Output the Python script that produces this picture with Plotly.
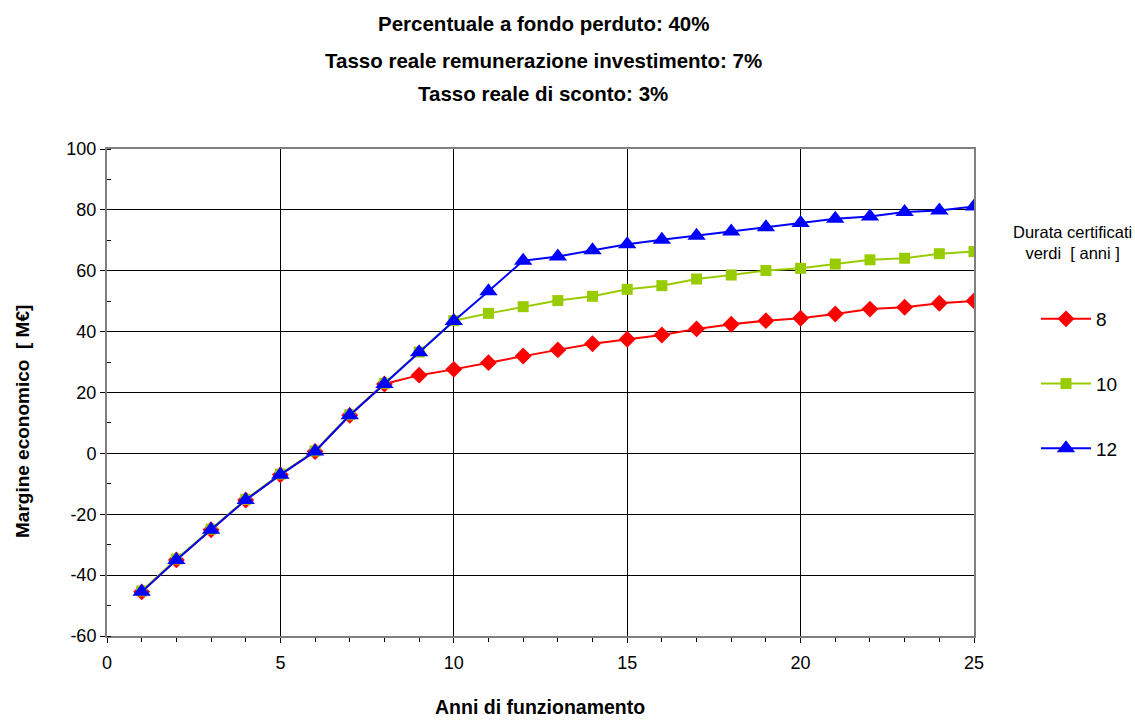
import plotly.graph_objects as go

# Anni di funzionamento
anni = list(range(1, 26))

# Margine economico [M€] per durata dei certificati verdi
margine_8 = [-45.5, -35.0, -25.1, -15.3, -7.0, 0.6, 12.5, 22.8, 25.7, 27.6,
             29.8, 32.0, 34.0, 36.0, 37.5, 38.9, 40.9, 42.4, 43.6, 44.4,
             45.8, 47.4, 48.0, 49.3, 50.1]
margine_10 = [-45.2, -34.7, -24.9, -15.1, -6.8, 0.8, 12.7, 23.0, 33.3, 43.6,
              46.0, 48.2, 50.2, 51.6, 53.9, 55.1, 57.3, 58.6, 60.1, 60.8,
              62.2, 63.6, 64.1, 65.6, 66.3]
margine_12 = [-45.5, -35.0, -25.1, -15.3, -7.0, 0.6, 12.5, 22.8, 33.2, 43.5,
              53.3, 63.3, 64.7, 66.7, 68.7, 70.2, 71.5, 72.9, 74.3, 75.7,
              77.1, 77.8, 79.3, 79.8, 81.1]

# Etichette degli assi
x_ticks = [0, 5, 10, 15, 20, 25]
y_ticks = [-60, -40, -20, 0, 20, 40, 60, 80, 100]

serie = [
    ("8", margine_8, "#FF0000", "diamond", 13),
    ("10", margine_10, "#99CC00", "square", 11),
    ("12", margine_12, "#0000FF", "triangle-up", 16),
]

titoli = [
    "Percentuale a fondo perduto: 40%",
    "Tasso reale remunerazione investimento: 7%",
    "Tasso reale di sconto: 3%",
]

FONT = "Liberation Sans, Arial, sans-serif"

fig = go.Figure()
for nome, valori, colore, simbolo, dim in serie:
    fig.add_trace(go.Scatter(
        x=anni, y=valori, name=nome, legendgroup=nome,
        mode="lines+markers",
        line=dict(color=colore, width=2),
        marker=dict(symbol=simbolo, size=dim, color=colore,
                    line=dict(width=0)),
    ))

axis_common = dict(
    showgrid=True, gridcolor="#000000", gridwidth=1,
    zeroline=False,
    showline=True, linecolor="#808080", linewidth=2, mirror=True,
    ticks="outside", ticklen=5, tickcolor="#000000",
    tickfont=dict(family=FONT, size=18, color="#000000"),
)

fig.update_xaxes(range=[0, 25], tickvals=x_ticks,
                 ticktext=[str(v) for v in x_ticks],
                 ticklabelstandoff=4,
                 minor=dict(dtick=1, tick0=0, ticks="outside", ticklen=4,
                            tickcolor="#000000", showgrid=False),
                 **axis_common)
fig.update_yaxes(range=[-60, 100], tickvals=y_ticks,
                 ticktext=[str(v) for v in y_ticks],
                 minor=dict(dtick=10, tick0=0, ticks="inside", ticklen=4,
                            tickcolor="#000000", showgrid=False),
                 **axis_common)

annotations = []
for testo, yp in zip(titoli, [23, 60, 93]):
    annotations.append(dict(
        text="<b>%s</b>" % testo, xref="paper", yref="paper",
        x=(543 - 107) / 867, y=(636 - yp) / 487,
        xanchor="center", yanchor="middle", showarrow=False,
        font=dict(family=FONT, size=20.5, color="#000000"),
    ))
annotations.append(dict(
    text="<b>Margine economico  [ M€]</b>", xref="paper", yref="paper",
    x=(22 - 107) / 867, y=(636 - 422) / 487, textangle=-90,
    xanchor="center", yanchor="middle", showarrow=False,
    font=dict(family=FONT, size=19, color="#000000"),
))
annotations.append(dict(
    text="<b>Anni di funzionamento</b>", xref="paper", yref="paper",
    x=(540 - 107) / 867, y=(636 - 707) / 487,
    xanchor="center", yanchor="middle", showarrow=False,
    font=dict(family=FONT, size=19.5, color="#000000"),
))
annotations.append(dict(
    text="Durata certificati<br>verdi  [ anni ]", xref="paper", yref="paper",
    x=(1072 - 107) / 867, y=(636 - 242) / 487,
    xanchor="center", yanchor="middle", showarrow=False, align="center",
    font=dict(family=FONT, size=16.5, color="#000000"),
))

fig.update_layout(
    width=1135, height=720,
    margin=dict(l=107, r=161, t=149, b=84),
    paper_bgcolor="#FFFFFF", plot_bgcolor="#FFFFFF",
    font=dict(family=FONT, color="#000000"),
    annotations=annotations,
    showlegend=True,
    legend=dict(
        x=(1036 - 107) / 867, y=(636 - 300) / 487,
        xanchor="left", yanchor="top",
        font=dict(family=FONT, size=19, color="#000000"),
        itemwidth=50,
        tracegroupgap=37, bgcolor="rgba(0,0,0,0)",
    ),
)

fig.write_html("out.html")
